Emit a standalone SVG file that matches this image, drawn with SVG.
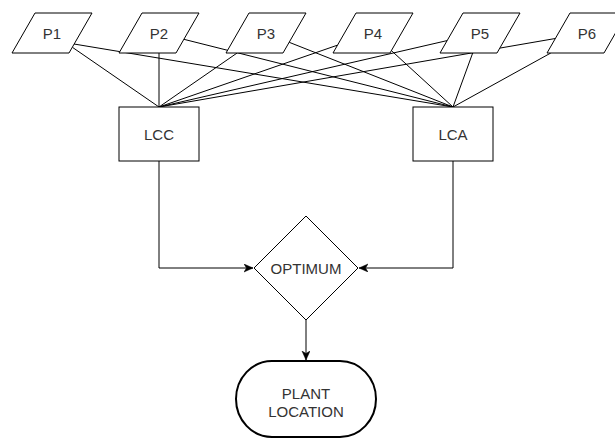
<svg xmlns="http://www.w3.org/2000/svg" width="615" height="439" viewBox="0 0 615 439">
<style>
.shape{fill:#fff;stroke:#000;stroke-width:1}
.term{fill:#fff;stroke:#000;stroke-width:2}
.edge{fill:none;stroke:#000;stroke-width:1}
text{font-family:"Liberation Sans",Arial,sans-serif;font-size:15px;fill:#333;text-anchor:middle}
</style>
<defs>
<marker id="arr" markerUnits="userSpaceOnUse" markerWidth="10" markerHeight="9" refX="9" refY="4" orient="auto">
<path d="M0,0 L9,4 L0,8 L2.5,4 Z" fill="#000" stroke="#000" stroke-width="0.5"/>
</marker>
</defs>
<rect width="615" height="439" fill="#fff"/>
<g id="connectors">
<line class="edge" x1="72.4" y1="47.3" x2="159" y2="107"/>
<line class="edge" x1="74" y1="44" x2="453" y2="107"/>
<line class="edge" x1="159" y1="53" x2="159" y2="107"/>
<line class="edge" x1="183.9" y1="39.3" x2="453" y2="107"/>
<line class="edge" x1="237.1" y1="53" x2="159" y2="107"/>
<line class="edge" x1="289.2" y1="42.3" x2="453" y2="107"/>
<line class="edge" x1="337.4" y1="45.2" x2="159" y2="107"/>
<line class="edge" x1="391.6" y1="50.8" x2="453" y2="107"/>
<line class="edge" x1="447.1" y1="40.6" x2="159" y2="107"/>
<line class="edge" x1="472.7" y1="53" x2="453" y2="107"/>
<line class="edge" x1="555.3" y1="38.5" x2="159" y2="107"/>
<line class="edge" x1="550.8" y1="53" x2="453" y2="107"/>
<path class="edge" d="M159,161 V268 H253" marker-end="url(#arr)"/>
<path class="edge" d="M453,161 V268 H359" marker-end="url(#arr)"/>
<path class="edge" d="M306,320 V360" marker-end="url(#arr)"/>
</g>
<g id="P1"><polygon class="shape" points="35,13 92,13 69,53 12,53"/><text x="52" y="39">P1</text></g>
<g id="P2"><polygon class="shape" points="142,13 199,13 176,53 119,53"/><text x="159" y="39">P2</text></g>
<g id="P3"><polygon class="shape" points="249,13 306,13 283,53 226,53"/><text x="266" y="39">P3</text></g>
<g id="P4"><polygon class="shape" points="356,13 413,13 390,53 333,53"/><text x="373" y="39">P4</text></g>
<g id="P5"><polygon class="shape" points="463,13 520,13 497,53 440,53"/><text x="480" y="39">P5</text></g>
<g id="P6"><polygon class="shape" points="570,13 627,13 604,53 547,53"/><text x="587" y="39">P6</text></g>
<g id="LCC"><rect class="shape" x="119" y="107" width="80" height="54"/><text x="159" y="140">LCC</text></g>
<g id="LCA"><rect class="shape" x="413" y="107" width="80" height="54"/><text x="453" y="140">LCA</text></g>
<g id="OPTIMUM"><polygon class="shape" points="306,216 358,268 306,320 254,268"/><text x="306" y="274">OPTIMUM</text></g>
<g id="PLANT_LOCATION"><rect class="term" x="236" y="361" width="140" height="76" rx="36" ry="38"/><text x="306" y="399">PLANT</text><text x="306" y="417">LOCATION</text></g>
</svg>
